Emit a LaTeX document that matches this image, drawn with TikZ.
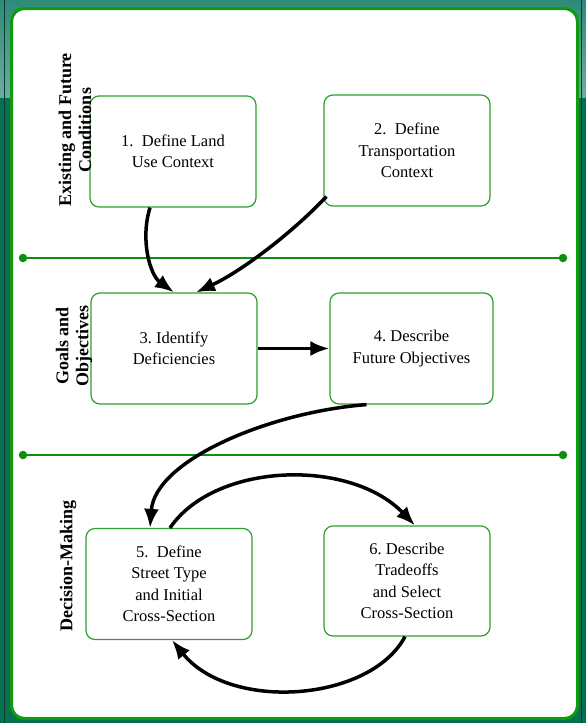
\documentclass[tikz,border=0pt]{standalone}
\usepackage{fontspec}
\setmainfont{Liberation Serif}
\usetikzlibrary{arrows.meta}
\definecolor{frameteal}{HTML}{07704F}
\definecolor{toptealA}{HTML}{2F8A78}
\definecolor{toptealB}{HTML}{6AAEA0}
\definecolor{darkline}{HTML}{0A3A30}
\definecolor{bordergreen}{HTML}{109A10}
\definecolor{boxgreen}{HTML}{2EA02E}
\definecolor{sepgreen}{HTML}{0E8E0E}
\tikzset{
  stepbox/.style={draw=boxgreen, line width=1.2pt, rounded corners=9pt, fill=white,
    align=center, inner sep=0pt, font=\fontsize{16.5}{21.5}\selectfont},
  sidelabel/.style={rotate=90, align=center, font=\fontsize{18}{20}\selectfont\bfseries},
  flow/.style={draw=black, line width=3.5pt, -{Latex[length=19pt,width=15pt]}},
  sep/.style={draw=sepgreen, line width=2.6pt},
  sepdot/.style={fill=sepgreen, circle, inner sep=0pt, minimum size=8.5pt}
}
\begin{document}
\begin{tikzpicture}[x=1pt,y=-1pt]
\useasboundingbox (0,0) rectangle (586,723);
% frame
\fill[frameteal] (0,0) rectangle (586,723);
\shade[top color=toptealA, bottom color=toptealB] (0,0) rectangle (586,97);
\draw[darkline, line width=1.5pt] (4.5,0) -- (4.5,723);
\draw[darkline, line width=1.5pt] (581.5,0) -- (581.5,723);
\draw[bordergreen, line width=3pt, fill=white, rounded corners=13pt] (11.5,8.5) rectangle (577.5,718.5);
% separators
\node[sepdot] (d1a) at (23,258) {};
\node[sepdot] (d1b) at (563,258) {};
\draw[sep] (d1a.center) -- (d1b.center);
\node[sepdot] (d2a) at (23,455) {};
\node[sepdot] (d2b) at (563,455) {};
\draw[sep] (d2a.center) -- (d2b.center);
% boxes
\node[stepbox, minimum width=166pt, minimum height=111pt] (b1) at (173,151.5) {1.\ \ Define Land\\Use Context};
\node[stepbox, minimum width=166pt, minimum height=111pt] (b2) at (407,150.5) {2.\ \ Define\\Transportation\\Context};
\node[stepbox, minimum width=166pt, minimum height=111pt] (b3) at (174,348.5) {3.\ Identify\\Deficiencies};
\node[stepbox, minimum width=163pt, minimum height=111pt] (b4) at (411.5,348.5) {4.\ Describe\\Future Objectives};
\node[stepbox, minimum width=166pt, minimum height=111pt] (b5) at (169,584) {5.\ \ Define\\Street Type\\and Initial\\Cross-Section};
\node[stepbox, minimum width=166pt, minimum height=110pt] (b6) at (407,581) {6.\ Describe\\Tradeoffs\\and Select\\Cross-Section};
% side labels
\node[sidelabel] (l1) at (75,130) {Existing and Future\\Conditions};
\node[sidelabel] (l2) at (74,346) {Goals and\\Objectives};
\node[sidelabel] (l3) at (68,566) {Decision-Making};
% arrows
\draw[flow] ([xshift=-23pt]b1.south) .. controls (140,240) and (150,275) .. (b3.north);
\draw[flow] ([shift={(3pt,10pt)}]b2.south west) .. controls (290,235) and (240,272) .. ([xshift=22pt]b3.north);
\draw[flow] (b3.east) -- (b4.west);
\draw[flow] ([xshift=-45pt]b4.south) .. controls (270,412) and (155,460) .. ([xshift=-19pt]b5.north);
\draw[flow] ([xshift=1pt]b5.north) .. controls (215,462) and (350,458) .. ([xshift=8pt]b6.north);
\draw[flow] ([xshift=-2pt]b6.south) .. controls (370,702) and (230,712) .. ([xshift=3pt]b5.south);
\end{tikzpicture}
\end{document}
